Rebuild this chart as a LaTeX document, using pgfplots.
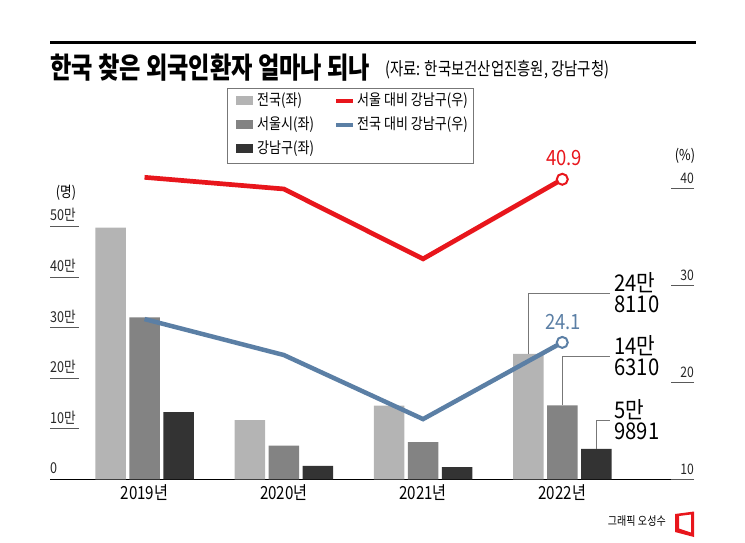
\documentclass[border=0pt]{standalone}
\usepackage{pgfplots}
\pgfplotsset{compat=1.18}
\usepackage{fontspec}
\setmainfont{Noto Sans CJK KR}
\newfontfamily\kr{Noto Sans CJK KR}[FakeStretch=0.84]
\newfontfamily\krt{Noto Sans CJK KR}[FakeStretch=0.80]
\newfontfamily\krs{Noto Sans CJK KR}[FakeStretch=0.80]
\newfontfamily\krn{Noto Sans CJK KR}[FakeStretch=0.88]
\definecolor{cA}{HTML}{B4B4B4}
\definecolor{cB}{HTML}{838383}
\definecolor{cC}{HTML}{333333}
\definecolor{cR}{HTML}{E8161C}
\definecolor{cU}{HTML}{5B7FA5}
\definecolor{cL}{HTML}{777777}
\begin{document}
\begin{tikzpicture}
% left axis with bars
\begin{axis}[
  at={(50pt,62.7pt)}, anchor=south west, scale only axis,
  width=644pt, height=291.3pt,
  xmin=-0.679, xmax=3.946, ymin=0, ymax=575700,
  clip=false,
  axis x line*=bottom, axis y line*=left,
  x axis line style={black, line width=1.3pt, -},
  y axis line style={draw=none},
  xtick={0,1,2,3}, xticklabels={2019년,2020년,2021년,2022년},
  xtick style={draw=none},
  xticklabel style={font=\kr\fontsize{18}{18}\selectfont, inner sep=0pt, yshift=-5pt},
  ytick={0,100000,200000,300000,400000,500000},
  yticklabels={0,10만,20만,30만,40만,50만},
  scaled y ticks=false,
  tick align=inside, major tick length=29pt,
  ytick style={draw=black!65, line width=0.8pt},
  yticklabel style={anchor=base west, inner sep=0pt, yshift=5.5pt, font=\kr\fontsize{15}{15}\selectfont, text=black!85},
]
\addplot[ybar, bar width=0.219, bar shift=-0.244, fill=cA, draw=none] coordinates {(0,497464) (1,117069) (2,145842) (3,248110)};
\addplot[ybar, bar width=0.219, bar shift=0, fill=cB, draw=none] coordinates {(0,320000) (1,66400) (2,73700) (3,146310)};
\addplot[ybar, bar width=0.219, bar shift=0.244, fill=cC, draw=none] coordinates {(0,133000) (1,26700) (2,24300) (3,59891)};
% leader lines and value labels
\draw[cL, line width=0.8pt] (axis cs:2.756,248110) -- (axis cs:2.756,368200) -- (axis cs:3.343,368200)
  node[anchor=west, xshift=4pt, align=left, inner sep=0pt, text=black, font=\krn\fontsize{23}{21}\selectfont] {24만\\8110};
\draw[cL, line width=0.8pt] (axis cs:3,146310) -- (axis cs:3,243700) -- (axis cs:3.343,243700)
  node[anchor=west, xshift=4pt, align=left, inner sep=0pt, text=black, font=\krn\fontsize{23}{21}\selectfont] {14만\\6310};
\draw[cL, line width=0.8pt] (axis cs:3.244,59891) -- (axis cs:3.244,117200) -- (axis cs:3.343,117200)
  node[anchor=west, xshift=4pt, align=left, inner sep=0pt, text=black, font=\krn\fontsize{23}{21}\selectfont] {5만\\9891};
\end{axis}
% right axis with lines
\begin{axis}[
  at={(50pt,62.7pt)}, anchor=south west, scale only axis,
  width=644pt, height=291.3pt,
  xmin=-0.679, xmax=3.946, ymin=10, ymax=40,
  clip=false,
  axis x line=none, axis y line*=right,
  y axis line style={draw=none},
  ytick={10,20,30,40}, yticklabels={10,20,30,40},
  tick align=inside, major tick length=23pt,
  ytick style={draw=black!65, line width=0.8pt},
  yticklabel style={anchor=base east, inner sep=0pt, yshift=5pt, font=\kr\fontsize{14.5}{14.5}\selectfont, text=black!85},
]
\addplot[cR, line width=4.7pt, mark=*, mark indices={4}, mark size=5.5pt, mark options={fill=white, draw=cR, line width=2pt}] coordinates {(0,41.1) (1,39.9) (2,32.7) (3,40.9)};
\addplot[cU, line width=4.5pt, mark=*, mark indices={4}, mark size=5.5pt, mark options={fill=white, draw=cU, line width=2pt}] coordinates {(0,26.5) (1,22.8) (2,16.2) (3,24.1)};
\node[anchor=south, inner sep=0pt, yshift=13pt, xshift=2pt, text=cR, font=\krn\fontsize{21}{21}\selectfont] at (axis cs:3,40.9) {40.9};
\node[anchor=south, inner sep=0pt, yshift=12pt, xshift=1pt, text=cU, font=\krn\fontsize{21}{21}\selectfont] at (axis cs:3,24.1) {24.1};
\end{axis}
\begin{scope}[x=1pt,y=1pt]
% title
\draw[line width=3pt] (50,499) -- (696,499);
\node[anchor=base west, inner sep=0pt] at (50,463) {\krt\bfseries\fontsize{29}{30}\selectfont 한국 찾은 외국인환자 얼마나 되나};
\node[anchor=base west, inner sep=0pt] at (385,466) {\krs\fontsize{18}{20}\selectfont (자료: 한국보건산업진흥원, 강남구청)};
% legend
\draw[cL, line width=0.8pt] (227,454) rectangle (473,379);
\fill[cA] (236,436.5) rectangle (253,445.5);
\fill[cB] (236,412.5) rectangle (253,421.5);
\fill[cC] (236,388.5) rectangle (253,397.5);
\draw[cR, line width=3.5pt] (336,441) -- (353,441);
\draw[cU, line width=3.5pt] (336,417) -- (353,417);
\begin{scope}[every node/.style={anchor=west, inner sep=0pt, font=\kr\fontsize{15.5}{16}\selectfont}]
\node at (257,441) {전국(좌)};
\node at (257,417) {서울시(좌)};
\node at (257,393) {강남구(좌)};
\node at (357,441) {서울 대비 강남구(우)};
\node at (357,417) {전국 대비 강남구(우)};
\end{scope}
% unit labels
\node[inner sep=0pt, font=\kr\fontsize{15}{16}\selectfont] at (66,349) {(명)};
\node[inner sep=0pt, font=\kr\fontsize{15}{16}\selectfont] at (685,386) {(\%)};
% credit
\node[anchor=east, inner sep=0pt, font=\kr\fontsize{12}{12}\selectfont] at (666,21) {그래픽 오성수};
\fill[cR, even odd rule] (675,28) -- (694,30.5) -- (694,5) -- (675,10) -- cycle
  (679,26) -- (691,27.5) -- (691,9.5) -- (679,13.5) -- cycle;
\pgfresetboundingbox
\useasboundingbox (0,0) rectangle (745,542);
\end{scope}
\end{tikzpicture}
\end{document}
